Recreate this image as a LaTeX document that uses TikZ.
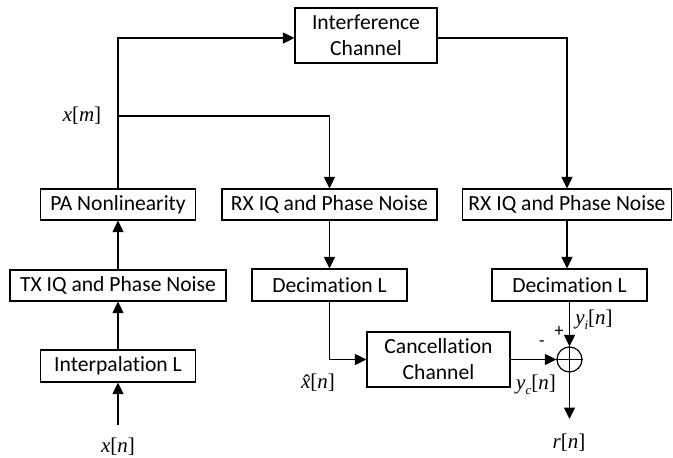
\documentclass[tikz,border=0pt]{standalone}
\usepackage{fontspec}
\setmainfont{Carlito}[Ligatures=CommonOff]
\newfontfamily\tms{Liberation Serif}
\usetikzlibrary{arrows.meta,calc}
\newcommand{\sbs}[1]{\raisebox{-0.22em}{\fontsize{13}{13}\selectfont\textit{#1}}}
\newcommand{\xhatsym}{\ooalign{\textit{x}\cr\hfil\kern0.1em\raisebox{-0.02em}{\char"02C6}\hfil\cr}}
\begin{document}
\begin{tikzpicture}[x=1pt,y=-1pt,
  blk/.style={draw,line width=1.2pt,inner sep=0pt,font=\fontsize{21.6}{26}\selectfont,align=center},
  wire/.style={line width=1.2pt},
  arr/.style={wire,-{Triangle[length=11.5pt,width=11pt]}},
  lbl/.style={font=\fontsize{21}{24}\selectfont\tms,inner sep=0pt},
  sgn/.style={font=\fontsize{18}{20}\selectfont,inner sep=0pt}]
\useasboundingbox (0,0) rectangle (673,458);
% blocks
\node[blk,minimum width=142pt,minimum height=55pt] (ic) at (366,35.5) {Interference\\Channel};
\node[blk,minimum width=155pt,minimum height=31pt] (pa) at (118,204.5) {PA Nonlinearity};
\node[blk,minimum width=215pt,minimum height=31pt] (rx1) at (329.5,204.5) {RX IQ and Phase Noise};
\node[blk,minimum width=209pt,minimum height=31pt] (rx2) at (567,204.5) {RX IQ and Phase Noise};
\node[blk,minimum width=216pt,minimum height=31pt] (tx) at (118,285.5) {TX IQ and Phase Noise};
\node[blk,minimum width=155pt,minimum height=32pt] (dec1) at (329.5,285) {Decimation L};
\node[blk,minimum width=155pt,minimum height=32pt] (dec2) at (569.5,285) {Decimation L};
\node[blk,minimum width=155pt,minimum height=32pt] (interp) at (118,366) {Interpalation L};
\node[blk,minimum width=143pt,minimum height=55pt] (cc) at (438.5,359.5) {Cancellation\\Channel};
\node[draw,circle,line width=1.2pt,minimum size=25pt,inner sep=0pt] (sum) at (569.5,359.5) {};
\draw[wire] (sum.north) -- (sum.south) (sum.west) -- (sum.east);
% coordinates
\coordinate (jm) at (118,116);
\coordinate (xin) at (118,425);
\coordinate (rout) at (569.5,419);
% connectors
\draw[arr] (pa.north) |- ([yshift=-2.5pt]ic.west);
\draw[arr] (jm) -| (rx1.north);
\draw[arr] ([yshift=-2.5pt]ic.east) -| (rx2.north);
\draw[arr] (rx1.south) -- (dec1.north);
\draw[arr] (rx2.south) -- (rx2.south |- dec2.north);
\draw[arr] (tx.north) -- (pa.south);
\draw[arr] (interp.north) -- (tx.south);
\draw[arr] (xin) -- (interp.south);
\draw[arr] (dec1.south) |- (cc.west);
\draw[arr] (cc.east) -- (sum.west);
\draw[arr] (dec2.south) -- (sum.north);
\draw[arr] (sum.south) -- (rout);
% labels
\node[lbl] (xm) at (82,116) {\textit{x}[\textit{m}]};
\node[lbl] (xn) at (118,447) {\textit{x}[\textit{n}]};
\node[lbl] (xh) at (318,383) {\xhatsym[\textit{n}]};
\node[lbl] (yi) at (594,320) {\textit{y}\sbs{i}[\textit{n}]};
\node[lbl] (yc) at (536,385) {\textit{y}\sbs{c}[\textit{n}]};
\node[lbl] (rn) at (569,443) {\textit{r}[\textit{n}]};
\node[sgn] (plus) at (559,332) {+};
\node[sgn] (minus) at (542,344) {-};
\end{tikzpicture}
\end{document}
